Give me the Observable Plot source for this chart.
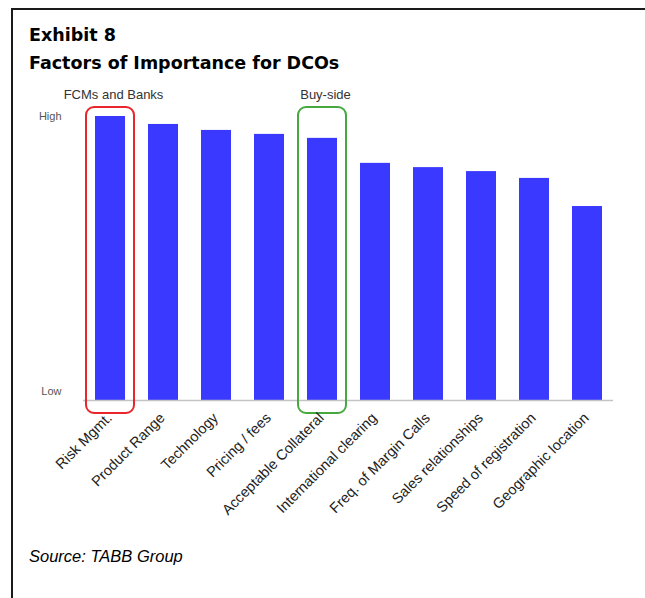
<!DOCTYPE html>
<html>
<head>
<meta charset="utf-8">
<script src="https://cdn.jsdelivr.net/npm/d3@7"></script>
<script src="https://cdn.jsdelivr.net/npm/@observablehq/plot@0.6"></script>
<style>
  html, body { margin: 0; padding: 0; background: #fff; }
  #page { position: relative; width: 645px; height: 598px; overflow: hidden; background: #fff; }
  #frame { position: absolute; left: 11px; top: 8px; width: 700px; height: 700px;
           border-left: 2px solid #1a1a1a; border-top: 2px solid #1a1a1a; box-sizing: border-box; }
  .title { position: absolute; left: 29px; font-family: "DejaVu Sans", Verdana, sans-serif;
           font-weight: bold; font-size: 17.5px; line-height: 20px; color: #000; white-space: nowrap; }
  #source { position: absolute; left: 29px; top: 548px; font-family: "Liberation Sans", Arial, sans-serif;
            font-style: italic; font-size: 16.5px; line-height: 16px; color: #000; white-space: nowrap; }
  #chart { position: absolute; left: 0; top: 80px; }
</style>
</head>
<body>
<div id="page">
  <div id="frame"></div>
  <div class="title" style="top:25px">Exhibit 8</div>
  <div class="title" style="top:53px">Factors of Importance for DCOs</div>
  <div id="chart"></div>
  <div id="source">Source: TABB Group</div>
</div>
<script>
// Factors (x categories)
const categories = [
  "Risk Mgmt.", "Product Range", "Technology", "Pricing / fees", "Acceptable Collateral",
  "International clearing", "Freq. of Margin Calls", "Sales relationships",
  "Speed of registration", "Geographic location"
];
// Relative importance (0 = Low, 100 = High)
const importance = [100, 97.2, 95.1, 93.7, 92.3, 83.5, 82.0, 80.6, 78.2, 68.3];
// Y tick labels
const yTickValues = [0, 100];
const yTickLabels = ["Low", "High"];
// Highlighted groups
const groupCategories = ["Risk Mgmt.", "Acceptable Collateral"];
const groupLabels = ["FCMs and Banks", "Buy-side"];
const groupColors = ["#e8262b", "#46a93f"];

const bars = categories.map((c, i) => ({category: c, value: importance[i]}));
const groups = groupCategories.map((c, i) => ({category: c, label: groupLabels[i], color: groupColors[i]}));

const chart = Plot.plot({
  width: 645,
  height: 440,
  marginLeft: 70,
  marginRight: 19,
  marginTop: 36,
  marginBottom: 120,
  style: {fontFamily: '"Liberation Sans", Arial, sans-serif', background: "transparent"},
  x: {domain: categories, padding: 0.44, label: null},
  y: {domain: [0, 100], label: null},
  color: {type: "identity"},
  marks: [
    Plot.barY(bars, {x: "category", y: "value", fill: "#3939ff"}),
    Plot.ruleY([0], {stroke: "#c4c4c4", strokeWidth: 1.5, insetLeft: 13, insetRight: 13}),
    Plot.barY(groups, {
      x: "category", y1: 0, y2: 100, fill: "none", stroke: "color", strokeWidth: 2,
      rx: 8, insetLeft: -9, insetRight: -9, insetTop: -9, insetBottom: -13
    }),
    Plot.text(groups, {
      x: "category", text: "label", frameAnchor: "top", lineAnchor: "middle", dy: -22, dx: 3,
      fontSize: 13, fill: "#333"
    }),
    Plot.axisY([yTickValues[1]], {
      label: null, tickFormat: () => yTickLabels[1], tickSize: 0, tickPadding: 9, fontSize: 11, fill: "#555"
    }),
    Plot.axisY([yTickValues[0]], {
      label: null, tickFormat: () => yTickLabels[0], tickSize: 0, tickPadding: 9, fontSize: 11, fill: "#555", dy: -9
    }),
    Plot.axisX({label: null, tickRotate: -45, tickSize: 0, tickPadding: 15, fontSize: 14.5, fill: "#222", dx: -1})
  ]
});
document.getElementById("chart").appendChild(chart);
</script>
</body>
</html>
